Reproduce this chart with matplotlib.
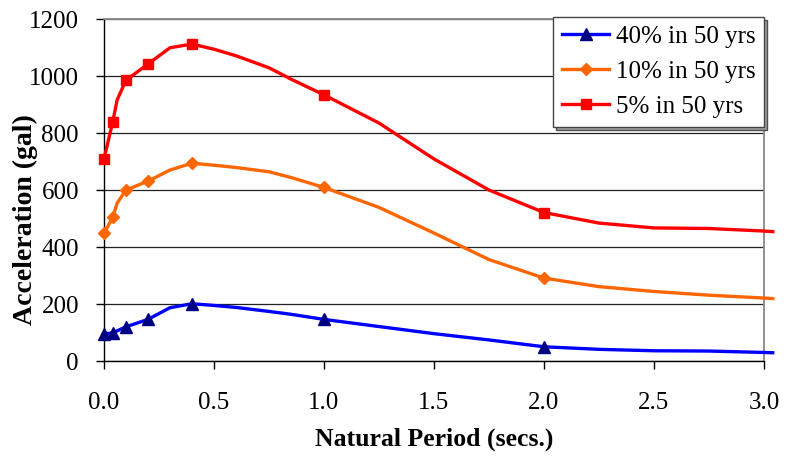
import matplotlib.pyplot as plt

plt.rcParams['font.family'] = ['Liberation Serif', 'DejaVu Serif']

# periods (secs) read along the spectra, and the ones that carry a marker
periods = [0.0, 0.04, 0.06, 0.1, 0.2, 0.3, 0.4, 0.5, 0.6, 0.75, 0.85, 1.0,
           1.25, 1.5, 1.75, 2.0, 2.25, 2.5, 2.75, 3.0, 3.04]
marker_periods = [0.0, 0.04, 0.1, 0.2, 0.4, 1.0, 2.0]

acc_40 = [96, 100, 107, 121, 147, 188, 202, 196, 189, 175, 165, 147,
          122, 97, 75, 51, 42, 37, 36, 31, 30]
acc_10 = [449, 505, 555, 601, 632, 671, 695, 688, 680, 665, 645, 610,
          540, 450, 357, 292, 262, 245, 232, 222, 220]
acc_5 = [709, 841, 917, 986, 1043, 1100, 1113, 1095, 1072, 1030, 990, 935,
         836, 710, 601, 522, 485, 468, 466, 457, 455]

labels = ["40% in 50 yrs", "10% in 50 yrs", "5% in 50 yrs"]
xticks = [0.0, 0.5, 1.0, 1.5, 2.0, 2.5, 3.0]
yticks = [0, 200, 400, 600, 800, 1000, 1200]

marks = [periods.index(p) for p in marker_periods]

fig = plt.figure(figsize=(7.87, 4.57), dpi=100)
ax = fig.add_axes([0.1321, 0.2094, 0.8386, 0.7484])

styles = [
    (acc_40, '#0000FF', '^', '#000080', 9),
    (acc_10, '#FF6600', 'D', '#FF6600', 6.5),
    (acc_5, '#FF0000', 's', '#FF0000', 7.5),
]
for (vals, color, mk, mcolor, ms), lab in zip(styles, labels):
    ax.plot(periods, vals, color=color, lw=2.4, marker=mk, markersize=ms,
            markerfacecolor=mcolor, markeredgecolor=mcolor, markevery=marks,
            label=lab, clip_on=False, zorder=3)

ax.set_xlim(0, 3.0)
ax.set_ylim(0, 1200)
ax.set_xticks(xticks)
ax.set_xticklabels(["%.1f" % t for t in xticks])
ax.set_yticks(yticks)

ax.grid(axis='y', color='#222222', lw=0.9)
ax.set_axisbelow(True)
for side in ['top', 'right']:
    ax.spines[side].set_color('#888888')
    ax.spines[side].set_linewidth(1.3)
for side in ['left', 'bottom']:
    ax.spines[side].set_color('black')
    ax.spines[side].set_linewidth(1.0)

ax.tick_params(axis='both', direction='out', length=6, width=1.0,
               labelsize=18)
ax.tick_params(axis='x', pad=16)
ax.tick_params(axis='y', pad=12)

ax.set_xlabel("Natural Period (secs.)", fontsize=18.5, fontweight='bold',
              labelpad=10)
ax.set_ylabel("Acceleration (gal)", fontsize=20, fontweight='bold')
ax.yaxis.set_label_coords(-0.1, 0.413)

leg = ax.legend(loc='upper right', bbox_to_anchor=(1.0, 1.007), fontsize=18,
                frameon=True, fancybox=False, edgecolor='#444444',
                borderpad=0.35, labelspacing=0.5, handlelength=1.9,
                handletextpad=0.25, borderaxespad=0,
                shadow={'facecolor': '#a0a0a0', 'alpha': 1})
leg.get_frame().set_linewidth(1.0)
leg.set_zorder(5)

fig.savefig("out.png", dpi=100)
